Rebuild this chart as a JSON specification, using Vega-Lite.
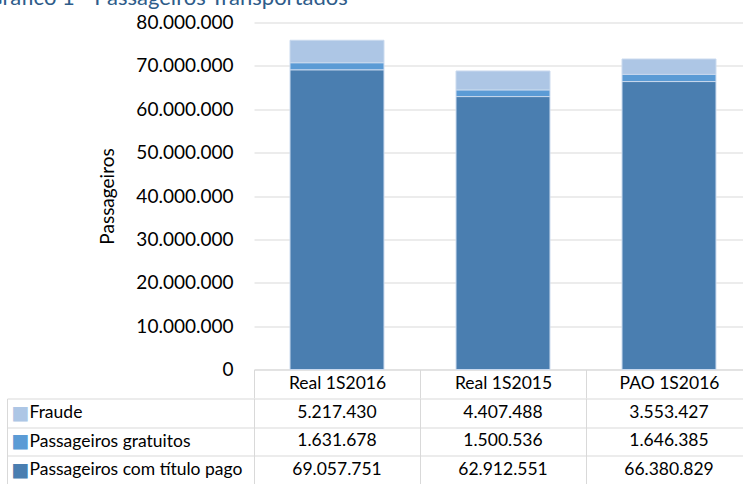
{
  "$schema": "https://vega.github.io/schema/vega-lite/v6.json",
  "padding": {"left": -14, "top": -13.5, "right": 0, "bottom": 0},
  "title": {"text": "Gráfico 1 - Passageiros Transportados", "anchor": "start", "frame": "bounds", "dx": -20, "offset": 4, "font": "Lato", "fontSize": 22, "fontWeight": "normal", "color": "#2E5C8A"},
  "datasets": {
    "d": [
      {"cat": "Real 1S2016", "series": "Fraude", "value": 5217430},
      {"cat": "Real 1S2016", "series": "Passageiros gratuitos", "value": 1631678},
      {"cat": "Real 1S2016", "series": "Passageiros com título pago", "value": 69057751},
      {"cat": "Real 1S2015", "series": "Fraude", "value": 4407488},
      {"cat": "Real 1S2015", "series": "Passageiros gratuitos", "value": 1500536},
      {"cat": "Real 1S2015", "series": "Passageiros com título pago", "value": 62912551},
      {"cat": "PAO 1S2016", "series": "Fraude", "value": 3553427},
      {"cat": "PAO 1S2016", "series": "Passageiros gratuitos", "value": 1646385},
      {"cat": "PAO 1S2016", "series": "Passageiros com título pago", "value": 66380829}
    ]
  },
  "data": {"name": "d"},
  "spacing": -9,
  "vconcat": [
    {
      "width": 498,
      "height": 347,
      "transform": [{"calculate": "indexof(['Passageiros com título pago', 'Passageiros gratuitos', 'Fraude'], datum.series)", "as": "stackOrder"}],
      "mark": {"type": "bar", "width": {"band": 0.566}, "stroke": "#C9D9EE", "strokeWidth": 1},
      "encoding": {
        "x": {
          "field": "cat", "type": "nominal",
          "sort": ["Real 1S2016", "Real 1S2015", "PAO 1S2016"],
          "scale": {"domain": ["Real 1S2016", "Real 1S2015", "PAO 1S2016"], "paddingInner": 0, "paddingOuter": 0},
          "axis": {"title": null, "orient": "bottom", "domain": true, "domainColor": "#D9D9D9", "ticks": true, "tickSize": 28.5, "tickColor": "#D9D9D9", "tickBand": "extent", "labelAngle": 0, "labelBaseline": "middle", "labelPadding": -14.25, "labelFontSize": 17.5, "labelColor": "#000000", "grid": false, "minExtent": 28.5, "maxExtent": 28.5}
        },
        "y": {
          "field": "value", "type": "quantitative", "stack": "zero",
          "scale": {"domain": [0, 80000000], "nice": false},
          "axis": {"title": "Passageiros", "titleFontSize": 19, "titleFontWeight": "normal", "titleColor": "#000000", "titlePadding": 18, "values": [0, 10000000, 20000000, 30000000, 40000000, 50000000, 60000000, 70000000, 80000000], "format": ",.0f", "domain": false, "ticks": false, "labelPadding": 21, "labelFontSize": 19, "labelColor": "#000000", "grid": true, "gridColor": "#D9D9D9", "gridWidth": 1}
        },
        "color": {
          "field": "series", "type": "nominal",
          "scale": {"domain": ["Passageiros com título pago", "Passageiros gratuitos", "Fraude"], "range": ["#4A7EB0", "#5B9BD5", "#ADC6E5"]},
          "legend": null
        },
        "order": {"field": "stackOrder", "type": "quantitative", "sort": "ascending"}
      }
    },
    {
      "width": 498,
      "height": 85.5,
      "layer": [
        {
          "mark": {"type": "text", "fontSize": 17.5, "color": "#000000", "baseline": "middle", "align": "center"},
          "encoding": {
            "x": {"field": "cat", "type": "nominal", "sort": ["Real 1S2016", "Real 1S2015", "PAO 1S2016"], "scale": {"type": "band", "domain": ["Real 1S2016", "Real 1S2015", "PAO 1S2016"], "paddingInner": 0, "paddingOuter": 0}, "axis": {"title": null, "labels": false, "ticks": false, "domain": false, "grid": true, "gridColor": "#D9D9D9", "tickBand": "extent"}},
            "y": {"field": "series", "type": "nominal", "sort": ["Fraude", "Passageiros gratuitos", "Passageiros com título pago"], "scale": {"type": "band", "domain": ["Fraude", "Passageiros gratuitos", "Passageiros com título pago"], "paddingInner": 0, "paddingOuter": 0}, "axis": {"title": null, "orient": "left", "offset": 0, "domain": false, "ticks": true, "tickSize": 247, "tickColor": "#D9D9D9", "tickBand": "extent", "grid": true, "gridColor": "#D9D9D9", "labelAlign": "left", "labelBaseline": "middle", "labelPadding": -22, "labelFontSize": 17.5, "labelColor": "#000000", "labelLimit": 0}},
            "text": {"field": "value", "type": "quantitative", "format": ",.0f"}
          }
        },
        {
          "mark": {"type": "text", "opacity": 0},
          "encoding": {
            "x": {"field": "cat", "type": "nominal", "sort": ["Real 1S2016", "Real 1S2015", "PAO 1S2016"]},
            "y": {"field": "series", "type": "nominal", "sort": ["Fraude", "Passageiros gratuitos", "Passageiros com título pago"], "scale": {"type": "band", "domain": ["Fraude", "Passageiros gratuitos", "Passageiros com título pago"], "paddingInner": 0, "paddingOuter": 0}, "axis": {"title": null, "orient": "left", "offset": 247, "domain": true, "domainColor": "#D9D9D9", "ticks": false, "grid": false, "labelExpr": "'■'", "labelAlign": "center", "labelBaseline": "middle", "labelPadding": -13, "labelFont": "DejaVu Sans", "labelFontSize": 19, "labelColor": {"condition": [{"test": "datum.value === 'Fraude'", "value": "#ADC6E5"}, {"test": "datum.value === 'Passageiros gratuitos'", "value": "#5B9BD5"}], "value": "#4A7EB0"}}},
            "text": {"field": "value", "type": "quantitative"}
          }
        }
      ],
      "resolve": {"scale": {"y": "independent"}, "axis": {"y": "independent"}}
    }
  ],
  "config": {
    "font": "Lato",
    "view": {"stroke": null},
    "locale": {"number": {"decimal": ",", "thousands": ".", "grouping": [3], "currency": ["R$ ", ""]}}
  }
}
